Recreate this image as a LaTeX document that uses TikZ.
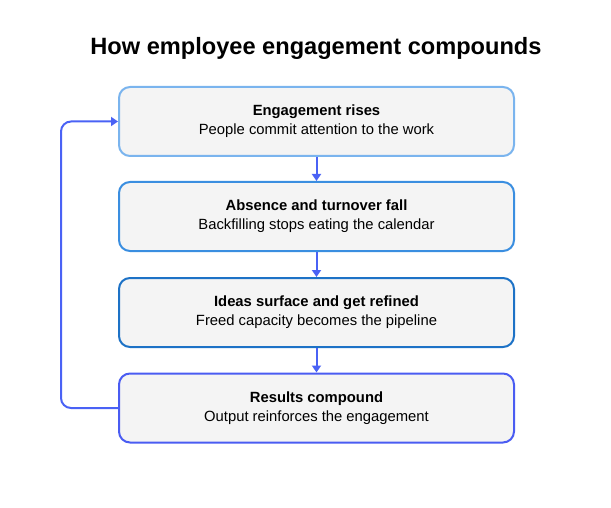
\documentclass[tikz,border=0pt]{standalone}
\usepackage{fontspec}
\setmainfont{Liberation Sans}
\usetikzlibrary{arrows.meta}
\definecolor{stepfill}{HTML}{F4F4F4}
\definecolor{edgeA}{HTML}{7AB4EE}
\definecolor{edgeB}{HTML}{3A8EE0}
\definecolor{edgeC}{HTML}{1D72C6}
\definecolor{edgeD}{HTML}{4A5CF2}
\definecolor{flowblue}{HTML}{4A62F5}
\tikzset{
    stagebox/.style={draw, line width=2pt, fill=stepfill, rounded corners=11pt,
        minimum width=395pt, minimum height=69pt, align=center,
        font=\fontsize{14.8pt}{19pt}\selectfont},
    flow/.style={draw=flowblue, line width=2pt, -{Triangle[length=7pt,width=9pt]}}
}
\begin{document}
\begin{tikzpicture}[x=1pt,y=-1pt]
        \useasboundingbox (0,0) rectangle (611,508);
        \node (title) at (316,48.5) {\fontsize{23.6pt}{28pt}\selectfont\bfseries How employee engagement compounds};
        \node[stagebox, draw=edgeA] (rise) at (316.5,121.5) {\textbf{Engagement rises}\\People commit attention to the work};
        \node[stagebox, draw=edgeB] (fall) at (316.5,216.5) {\textbf{Absence and turnover fall}\\Backfilling stops eating the calendar};
        \node[stagebox, draw=edgeC] (ideas) at (316.5,312.5) {\textbf{Ideas surface and get refined}\\Freed capacity becomes the pipeline};
        \node[stagebox, draw=edgeD] (results) at (316.5,408) {\textbf{Results compound}\\Output reinforces the engagement};
        \draw[flow] (rise) -- (fall);
        \draw[flow] (fall) -- (ideas);
        \draw[flow] (ideas) -- (results);
        \draw[flow, rounded corners=10pt] (results.west) -- ++(-57,0) |- (rise.west);
    \end{tikzpicture}
\end{document}
